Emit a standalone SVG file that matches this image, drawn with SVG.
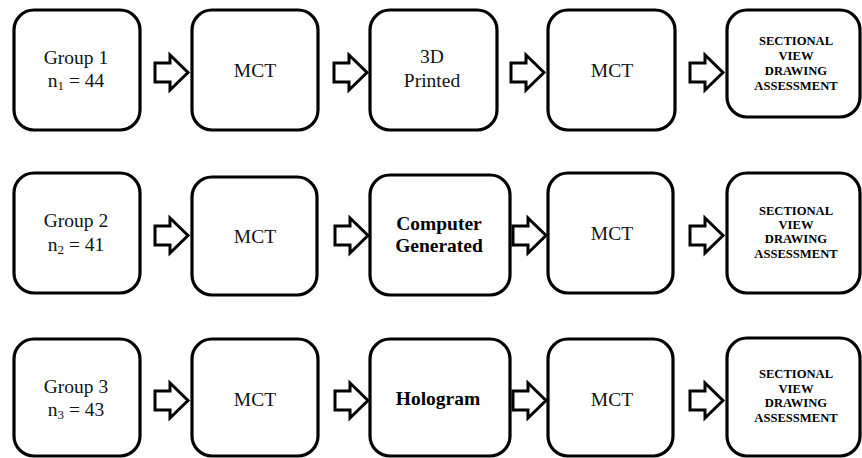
<svg xmlns="http://www.w3.org/2000/svg" xmlns:xlink="http://www.w3.org/1999/xlink" width="862" height="458" viewBox="0 0 862 458">
<defs>
<style>
.box{fill:#fff;stroke:#000;stroke-width:3.2}
.t{font-family:'Liberation Serif','Times New Roman',serif;font-size:19.5px;fill:#111;text-anchor:middle}
.b{font-weight:bold;fill:#000}
.s{font-family:'Liberation Serif','Times New Roman',serif;font-size:12.6px;font-weight:bold;fill:#000;text-anchor:middle}
.arr{fill:#fff;stroke:#000;stroke-width:3;stroke-linejoin:miter}
</style>
<path id="arrow" d="M0,-9.5 H15 V-17.5 L33,0 L15,17.5 V9.5 H0 Z"/>
</defs>
<rect width="862" height="458" fill="#fff"/>
<g id="connectors" class="arr">
<use xlink:href="#arrow" transform="translate(155,72.5)"/>
<use xlink:href="#arrow" transform="translate(334,72.5)"/>
<use xlink:href="#arrow" transform="translate(511,72.5)"/>
<use xlink:href="#arrow" transform="translate(690,72.5)"/>
<use xlink:href="#arrow" transform="translate(155,235.5)"/>
<use xlink:href="#arrow" transform="translate(335,235.5)"/>
<use xlink:href="#arrow" transform="translate(513,235.5)"/>
<use xlink:href="#arrow" transform="translate(690,235.5)"/>
<use xlink:href="#arrow" transform="translate(155,400.5)"/>
<use xlink:href="#arrow" transform="translate(335,400.5)"/>
<use xlink:href="#arrow" transform="translate(513,400.5)"/>
<use xlink:href="#arrow" transform="translate(690,400.5)"/>
</g>
<!-- Row 1 -->
<g id="group1">
<rect class="box" x="14" y="10" width="126" height="120" rx="20"/>
<text class="t" x="76" y="64">Group 1</text>
<text class="t" x="76" y="87">n<tspan font-size="13" dy="3">1</tspan><tspan dy="-3"> = 44</tspan></text>
</g>
<g id="mct1a">
<rect class="box" x="192" y="10" width="126" height="120" rx="20"/>
<text class="t" x="255" y="77">MCT</text>
</g>
<g id="printed3d">
<rect class="box" x="370" y="10" width="127" height="120" rx="20"/>
<text class="t" x="432" y="63">3D</text>
<text class="t" x="432" y="87">Printed</text>
</g>
<g id="mct1b">
<rect class="box" x="548" y="10" width="127" height="120" rx="20"/>
<text class="t" x="612" y="77">MCT</text>
</g>
<g id="sva1">
<rect class="box" x="727" y="10" width="133" height="107" rx="20"/>
<text class="s" x="796" y="45">SECTIONAL</text>
<text class="s" x="796" y="60">VIEW</text>
<text class="s" x="796" y="75">DRAWING</text>
<text class="s" x="796" y="90">ASSESSMENT</text>
</g>
<!-- Row 2 -->
<g id="group2">
<rect class="box" x="14" y="173" width="126" height="120" rx="20"/>
<text class="t" x="76" y="227">Group 2</text>
<text class="t" x="76" y="251">n<tspan font-size="13" dy="3">2</tspan><tspan dy="-3"> = 41</tspan></text>
</g>
<g id="mct2a">
<rect class="box" x="192" y="177" width="125" height="118" rx="20"/>
<text class="t" x="255" y="243">MCT</text>
</g>
<g id="computer">
<rect class="box" x="370" y="175" width="140" height="120" rx="20"/>
<text class="t b" x="439" y="230">Computer</text>
<text class="t b" x="439" y="252">Generated</text>
</g>
<g id="mct2b">
<rect class="box" x="548" y="173" width="125" height="120" rx="20"/>
<text class="t" x="612" y="240">MCT</text>
</g>
<g id="sva2">
<rect class="box" x="727" y="173" width="133" height="120" rx="20"/>
<text class="s" x="796" y="215">SECTIONAL</text>
<text class="s" x="796" y="229">VIEW</text>
<text class="s" x="796" y="243">DRAWING</text>
<text class="s" x="796" y="258">ASSESSMENT</text>
</g>
<!-- Row 3 -->
<g id="group3">
<rect class="box" x="14" y="339" width="126" height="117" rx="20"/>
<text class="t" x="76" y="393">Group 3</text>
<text class="t" x="76" y="416">n<tspan font-size="13" dy="3">3</tspan><tspan dy="-3"> = 43</tspan></text>
</g>
<g id="mct3a">
<rect class="box" x="192" y="339" width="126" height="117" rx="20"/>
<text class="t" x="255" y="406">MCT</text>
</g>
<g id="hologram">
<rect class="box" x="370" y="339" width="140" height="117" rx="20"/>
<text class="t b" x="438" y="405">Hologram</text>
</g>
<g id="mct3b">
<rect class="box" x="548" y="339" width="125" height="117" rx="20"/>
<text class="t" x="612" y="406">MCT</text>
</g>
<g id="sva3">
<rect class="box" x="727" y="338" width="133" height="118" rx="20"/>
<text class="s" x="796" y="378">SECTIONAL</text>
<text class="s" x="796" y="393">VIEW</text>
<text class="s" x="796" y="407">DRAWING</text>
<text class="s" x="796" y="422">ASSESSMENT</text>
</g>
</svg>
